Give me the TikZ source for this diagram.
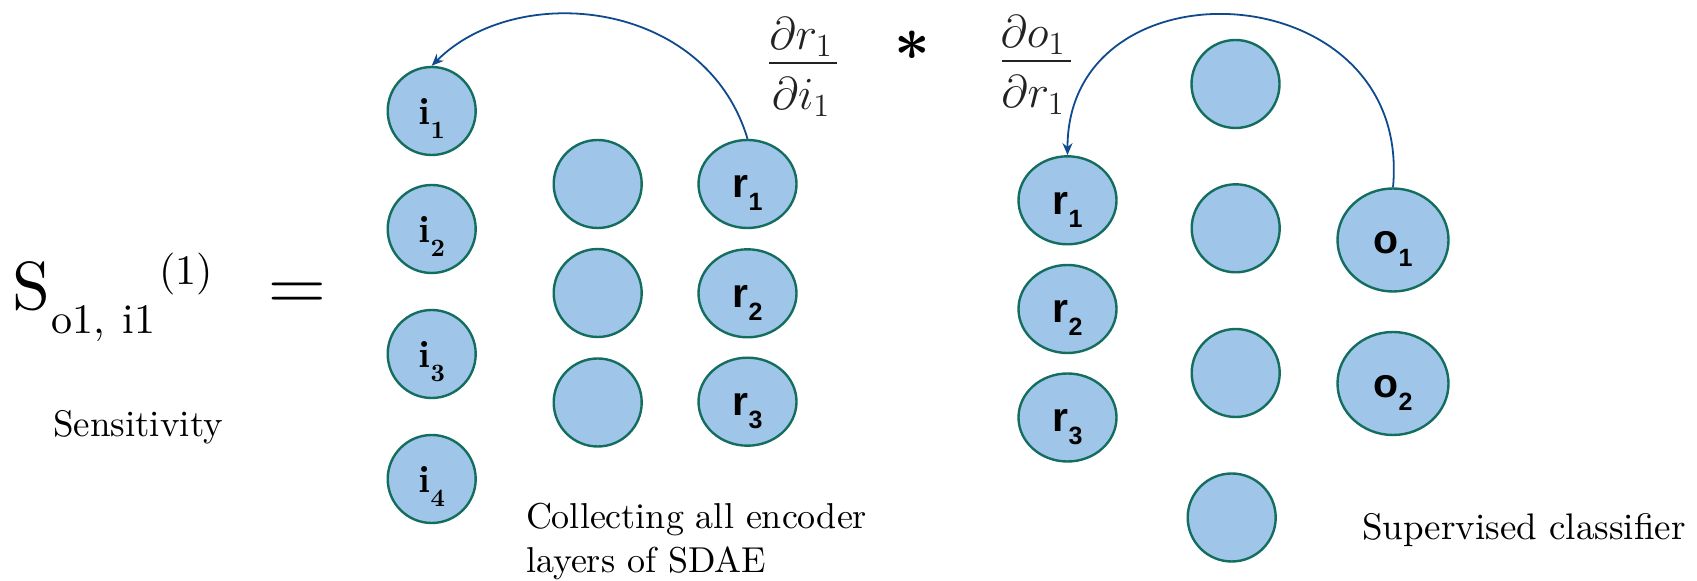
\RequirePackage{fix-cm}
\documentclass[tikz,border=0pt]{standalone}
\usepackage{fontspec}
\setmainfont{lmroman10}[Extension=.otf, UprightFont=*-regular, BoldFont=*-bold, ItalicFont=*-italic, BoldItalicFont=*-bolditalic]
\newfontfamily\arialf{Liberation Sans}
\usetikzlibrary{shapes.geometric,arrows.meta}
\definecolor{nodefill}{HTML}{9FC5E8}
\definecolor{nodeedge}{HTML}{146E5F}
\definecolor{arrowblue}{HTML}{104A8E}
\definecolor{fractext}{HTML}{222222}
\newcommand{\ilab}[1]{{\fontsize{19}{21}\selectfont\bfseries i}\raisebox{-7pt}{\fontsize{12.5}{14}\selectfont\bfseries #1}}
\newcommand{\slab}[2]{{\arialf\bfseries\fontsize{20.5}{22}\selectfont #1}\raisebox{-6.5pt}{\arialf\bfseries\fontsize{12.5}{14}\selectfont #2}}
\begin{document}
\begin{tikzpicture}[x=0.5pt,y=-0.5pt,
  neuron/.style={ellipse, draw=nodeedge, fill=nodefill, line width=1.2pt, inner sep=0pt, text height=14pt, text depth=0pt},
  smallnode/.style={neuron, minimum width=44pt, minimum height=44pt},
  widenode/.style={neuron, minimum width=49pt, minimum height=44pt},
  bignode/.style={neuron, minimum width=55.5pt, minimum height=51.5pt},
  arr/.style={draw=arrowblue, line width=0.9pt, -{Stealth[length=6pt,width=5pt]}},
  txt/.style={inner sep=0pt, outer sep=0pt, font=\fontsize{18}{22}\selectfont},
  fracpart/.style={txt, font=\fontsize{23}{26}\selectfont, text=fractext, anchor=base},
]
\useasboundingbox (0,0) rectangle (1697,581);

% equation on the left
\node[txt, font=\fontsize{34}{38}\selectfont, anchor=base west] (S) at (12,310) {S};
\node[txt, font=\fontsize{21}{24}\selectfont, anchor=base west] (Ssub) at (51,334) {o1,\hspace{9pt}i1};
\node[txt, font=\fontsize{21}{24}\selectfont, anchor=base west] (Ssup) at (159,285) {(1)};
\node[txt, font=\fontsize{40}{44}\selectfont, anchor=base] (eq) at (297.5,312) {$=$};
\node[txt, font=\fontsize{18.5}{22}\selectfont, anchor=base] (sens) at (138,437) {Sensitivity};

% encoder part
\node[smallnode] (i1) at (431.7,111) {\ilab{1}};
\node[smallnode] (i2) at (431.7,229) {\ilab{2}};
\node[smallnode] (i3) at (431.7,354) {\ilab{3}};
\node[smallnode] (i4) at (431.7,479) {\ilab{4}};
\node[smallnode] (ha1) at (597.7,184) {};
\node[smallnode] (ha2) at (597.7,293) {};
\node[smallnode] (ha3) at (597.7,402.5) {};
\node[widenode] (ra1) at (747.5,184) {\slab{r}{1}};
\node[widenode] (ra2) at (747.5,293.3) {\slab{r}{2}};
\node[widenode] (ra3) at (747.5,401.7) {\slab{r}{3}};
\node[txt, align=left, anchor=north west] (coll) at (526,503) {Collecting all encoder\\layers of SDAE};

% classifier part
\node[widenode] (rb1) at (1067.5,200.3) {\slab{r}{1}};
\node[widenode] (rb2) at (1067.5,309) {\slab{r}{2}};
\node[widenode] (rb3) at (1067.5,417.5) {\slab{r}{3}};
\node[smallnode] (hb1) at (1235.5,84) {};
\node[smallnode] (hb2) at (1235.7,228.3) {};
\node[smallnode] (hb3) at (1235.7,373) {};
\node[smallnode] (hb4) at (1231.7,517.5) {};
\node[bignode] (o1) at (1393,240) {\slab{o}{1}};
\node[bignode] (o2) at (1393,383.5) {\slab{o}{2}};
\node[txt, font=\fontsize{18.5}{22}\selectfont, anchor=base west] (sup) at (1362,540) {Supervised classifier};

% fractions
\node[fracpart] (n1) at (801,50) {$\partial r_1$};
\node[fracpart] (d1) at (801,110) {$\partial i_1$};
\draw[fractext, line width=1pt] (769,63.3) -- (836.7,63.3);
\node[txt, font=\fontsize{31}{34}\selectfont\bfseries, anchor=base] (star) at (912,78) {*};
\node[fracpart] (n2) at (1033,48) {$\partial o_1$};
\node[fracpart] (d2) at (1033,108) {$\partial r_1$};
\draw[fractext, line width=1pt] (1001.7,61) -- (1070.7,61);

% arrows
\draw[arr] (ra1.north) .. controls +(-42,-140) and +(85,-85) .. (i1.north);
\draw[arr] (o1.north) .. controls +(20,-215) and +(0,-200) .. (rb1.north);
\end{tikzpicture}
\end{document}
